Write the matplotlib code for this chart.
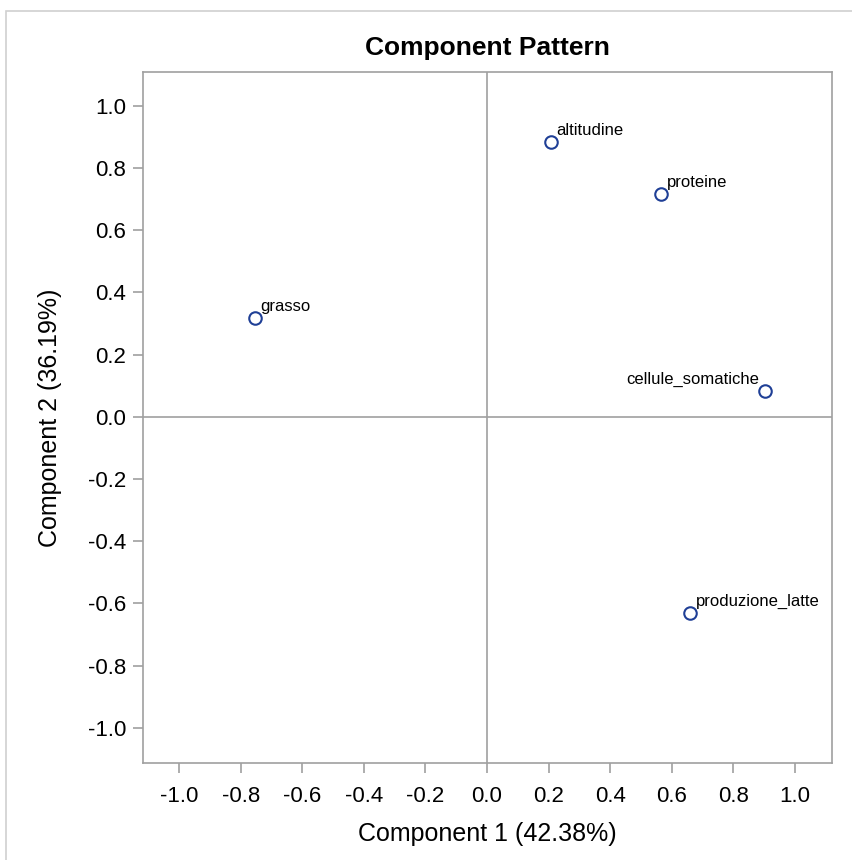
import matplotlib
matplotlib.use("Agg")
import matplotlib.pyplot as plt
from matplotlib.patches import Rectangle

plt.rcParams['font.family'] = ['Liberation Sans', 'DejaVu Sans']

variables = ["altitudine", "proteine", "grasso", "cellule_somatiche", "produzione_latte"]
comp1 = [0.207, 0.565, -0.753, 0.903, 0.659]
comp2 = [0.884, 0.717, 0.318, 0.084, -0.630]
label_side = ["right", "right", "right", "left", "right"]
ticks = [-1.0, -0.8, -0.6, -0.4, -0.2, 0.0, 0.2, 0.4, 0.6, 0.8, 1.0]
tick_labels = ["-1.0", "-0.8", "-0.6", "-0.4", "-0.2", "0.0", "0.2", "0.4", "0.6", "0.8", "1.0"]

W, H = 852, 860
fig = plt.figure(figsize=(W/100, H/100), dpi=100)
fig.patches.append(Rectangle((6/W, -0.1), 1.2, 1 - 11/H + 0.1, transform=fig.transFigure,
                             fill=False, edgecolor='#d0d0d0', linewidth=1.2))

ax = fig.add_axes([143/W, 1 - 763/H, (832-143)/W, (763-72)/H])
grey = '#a0a0a0'
ax.axhline(0, color=grey, linewidth=1.2, zorder=1)
ax.axvline(0, color=grey, linewidth=1.2, zorder=1)
ax.plot(comp1, comp2, linestyle='none', marker='o', markersize=9, markerfacecolor='white',
        markeredgecolor='#1f3f96', markeredgewidth=1.5, zorder=3)
for x, y, t, side in zip(comp1, comp2, variables, label_side):
    if side == "right":
        ax.annotate(t, (x, y), xytext=(4, 3), textcoords='offset points', ha='left', va='bottom', fontsize=12)
    else:
        ax.annotate(t, (x, y), xytext=(-4, 3), textcoords='offset points', ha='right', va='bottom', fontsize=12)

ax.set_xlim(-1.117, 1.12)
ax.set_ylim(-1.113, 1.109)
ax.set_xticks(ticks)
ax.set_xticklabels(tick_labels)
ax.set_yticks(ticks)
ax.set_yticklabels(tick_labels)
for s in ax.spines.values():
    s.set_color(grey)
    s.set_linewidth(1.2)
ax.tick_params(direction='out', length=7, width=1.2, color=grey, labelsize=16)
ax.tick_params(axis='x', pad=9.5)
ax.tick_params(axis='y', pad=5)
ax.set_xlabel("Component 1 (42.38%)", fontsize=18, labelpad=11)
ax.set_ylabel("Component 2 (36.19%)", fontsize=18, labelpad=18.5)
ax.set_title("Component Pattern", fontsize=19, fontweight='bold', pad=12)

fig.savefig("out.png", dpi=100)
